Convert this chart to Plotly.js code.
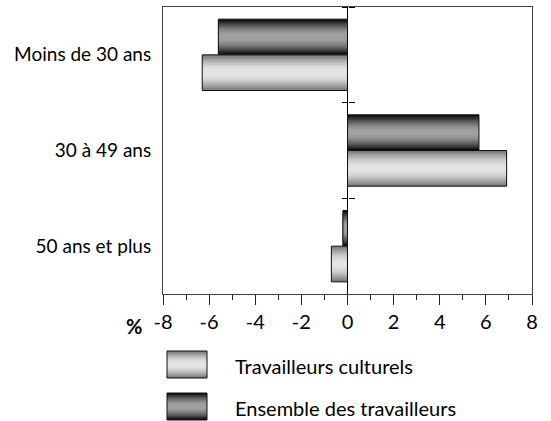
<!DOCTYPE html>
<html>
<head>
<meta charset="utf-8">
<script src="https://cdn.plot.ly/plotly-3.0.1.min.js"></script>
<style>html,body{margin:0;padding:0;background:#fff;}#chart{width:551px;height:421px;}</style>
</head>
<body>
<div id="chart"></div>
<script>
const categories = ['Moins de 30 ans', '30 à 49 ans', '50 ans et plus'];
const culturels = [-6.3, 6.9, -0.7];
const ensemble = [-5.6, 5.7, -0.2];
const seriesNames = ['Travailleurs culturels', 'Ensemble des travailleurs'];
const xTickVals = [-8, -6, -4, -2, 0, 2, 4, 6, 8];
const xTickText = ['-8', '-6', '-4', '-2', '0', '2', '4', '6', '8'];

const W = 551, H = 421;
const M = {l: 163, r: 19, t: 7, b: 127};
const FONT = 'Lato, "Open Sans", sans-serif';
const BARW = 0.373;
const N = 14;

function lerp(a, b, t) { return a.map((v, i) => Math.round(v + (b[i] - v) * t)); }
function rgb(c) { return 'rgb(' + c.join(',') + ')'; }

const LIGHT = {edge: [120, 120, 120], mid: [228, 228, 228]};
const DARK = {edge: [10, 10, 10], mid: [160, 160, 160]};

function gradientBars(values, offset, style, name) {
  const traces = [];
  for (let j = 0; j < N; j++) {
    const t = Math.sin((j / (N - 1)) * Math.PI / 2);
    const inset = j * BARW / (2 * N);
    traces.push({
      type: 'bar', orientation: 'h', y: categories, x: values,
      offset: offset + inset, width: BARW - 2 * inset,
      marker: {color: rgb(lerp(style.edge, style.mid, t)), line: {width: 0}},
      name: name, showlegend: false, hoverinfo: 'skip'
    });
  }
  traces.push({
    type: 'bar', orientation: 'h', y: categories, x: values,
    offset: offset, width: BARW,
    marker: {color: 'rgba(0,0,0,0)', line: {width: 1, color: '#111'}},
    name: name, showlegend: false, hoverinfo: 'x+y+name'
  });
  return traces;
}

const data = [
  ...gradientBars(ensemble, -BARW, DARK, seriesNames[1]),
  ...gradientBars(culturels, 0, LIGHT, seriesNames[0]),
  {type: 'scatter', x: [0], y: [0], yaxis: 'y2', mode: 'markers', marker: {opacity: 0}, showlegend: false, hoverinfo: 'skip'},
  {type: 'scatter', x: [0], y: [0], yaxis: 'y3', mode: 'markers', marker: {opacity: 0}, showlegend: false, hoverinfo: 'skip'}
];

const pw = W - M.l - M.r, ph = H - M.t - M.b;
function px2x(px) { return (px - M.l) / pw; }
function px2y(py) { return (H - M.b - py) / ph; }

const shapes = [];
function swatch(x0, y0, x1, y1, style) {
  const h = y1 - y0;
  for (let j = 0; j < N; j++) {
    const t = Math.sin((j / (N - 1)) * Math.PI / 2);
    const inset = j * h / (2 * N);
    shapes.push({type: 'rect', xref: 'paper', yref: 'paper',
      x0: px2x(x0), x1: px2x(x1), y0: px2y(y0 + inset), y1: px2y(y1 - inset),
      fillcolor: rgb(lerp(style.edge, style.mid, t)), line: {width: 0}});
  }
  shapes.push({type: 'rect', xref: 'paper', yref: 'paper',
    x0: px2x(x0), x1: px2x(x1), y0: px2y(y0), y1: px2y(y1),
    fillcolor: 'rgba(0,0,0,0)', line: {width: 1, color: '#111'}});
}
swatch(167, 351, 207, 378, LIGHT);
swatch(167, 393, 207, 420, DARK);

const annotations = [
  {xref: 'paper', yref: 'paper', x: px2x(144), y: px2y(326), text: '<b>%</b>', showarrow: false,
   xanchor: 'right', yanchor: 'middle', font: {family: FONT, size: 20, color: '#000'}},
  {xref: 'paper', yref: 'paper', x: px2x(233), y: px2y(366), text: seriesNames[0], showarrow: false,
   xanchor: 'left', yanchor: 'middle', font: {family: FONT, size: 20, color: '#000'}},
  {xref: 'paper', yref: 'paper', x: px2x(233), y: px2y(408), text: seriesNames[1], showarrow: false,
   xanchor: 'left', yanchor: 'middle', font: {family: FONT, size: 20, color: '#000'}}
];

const layout = {
  width: W, height: H,
  margin: M,
  paper_bgcolor: '#fff', plot_bgcolor: '#fff',
  barmode: 'overlay',
  showlegend: false,
  font: {family: FONT, size: 19, color: '#000'},
  xaxis: {
    range: [-8, 8], tickvals: xTickVals, ticktext: xTickText,
    ticks: 'outside', ticklen: 10, tickcolor: '#222', tickwidth: 1,
    minor: {dtick: 1, ticks: 'outside', ticklen: 5, tickcolor: '#222'},
    showline: true, linecolor: '#444', linewidth: 1, mirror: true,
    showgrid: false, zeroline: true, zerolinecolor: '#000', zerolinewidth: 1,
    tickfont: {family: FONT, size: 20, color: '#000'}
  },
  yaxis: {
    type: 'category', categoryorder: 'array', categoryarray: categories,
    range: [2.5, -0.5],
    ticks: 'outside', ticklen: 7, tickcolor: 'rgba(0,0,0,0)',
    showline: true, linecolor: '#444', linewidth: 1, mirror: true,
    showgrid: false, zeroline: false,
    tickfont: {family: FONT, size: 19, color: '#000'}
  },
  yaxis2: {
    overlaying: 'y', anchor: 'free', position: 0.5, side: 'left',
    range: [2.5, -0.5], tickvals: [-0.5, 0.5, 1.5],
    ticks: 'outside', ticklen: 6, tickcolor: '#000', showticklabels: false,
    showline: false, showgrid: false, zeroline: false
  },
  yaxis3: {
    overlaying: 'y', anchor: 'free', position: 0.5, side: 'right',
    range: [2.5, -0.5], tickvals: [-0.5, 0.5, 1.5],
    ticks: 'outside', ticklen: 6, tickcolor: '#000', showticklabels: false,
    showline: false, showgrid: false, zeroline: false
  },
  shapes: shapes,
  annotations: annotations
};

Plotly.newPlot('chart', data, layout, {displayModeBar: false, staticPlot: true});
</script>
</body>
</html>
